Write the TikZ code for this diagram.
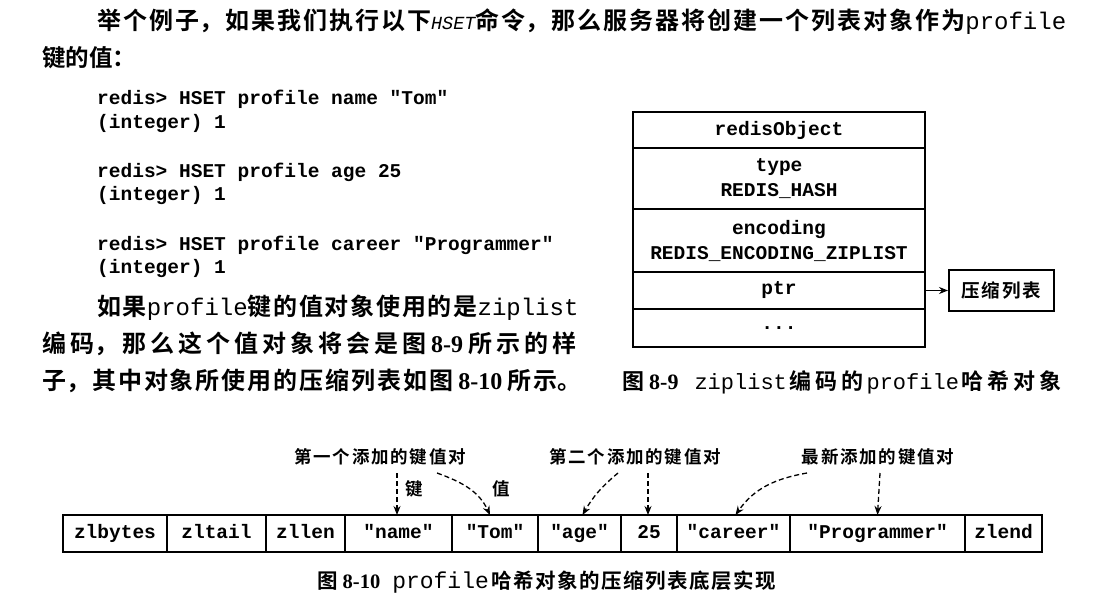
\documentclass[tikz,border=0pt]{standalone}
\usepackage{fontspec}
\usetikzlibrary{arrows.meta,positioning}

\newfontfamily\cjk{Noto Sans CJK SC}[UprightFont=* Bold]
\newfontfamily\cjklab{Noto Sans CJK SC}[UprightFont=* Bold,LetterSpace=10]
\newfontfamily\code{Liberation Mono}[UprightFont=* Bold]
\newfontfamily\txtmono{Liberation Mono}
\newfontfamily\cmdit{Liberation Mono}[UprightFont=* Italic]
\newfontfamily\dig{Liberation Serif}[UprightFont=* Bold]
\XeTeXlinebreaklocale "zh"
\XeTeXlinebreakskip=0pt plus 1fil
\newcommand\tm[2][24]{{\txtmono\fontsize{#1}{28}\selectfont #2}}
\newcommand\cmd[1]{{\cmdit\fontsize{18.5}{28}\selectfont #1}}

\begin{document}
\begin{tikzpicture}[x=1pt,y=-1pt,>={Stealth[length=9pt,width=7pt]},
    para/.style={anchor=west,inner sep=0pt,text width=#1,align=justify,font=\cjk\fontsize{24}{28}\selectfont},
    codeline/.style={anchor=west,inner sep=0pt,font=\code\fontsize{19.5}{24}\selectfont},
    row/.style={draw,line width=1.8pt,outer sep=0pt,inner sep=0pt,minimum width=292pt,align=center,font=\code\fontsize{19.5}{25}\selectfont},
    cell/.style={draw,line width=1.8pt,outer sep=0pt,inner sep=0pt,minimum height=37pt,
                 text height=13pt,text depth=4pt,font=\code\fontsize{19.5}{24}\selectfont},
    hint/.style={inner sep=0pt,font=\cjklab\fontsize{17.5}{20}\selectfont},
    ptr arrow/.style={->,line width=1.4pt},
    hint arrow/.style={->,dash pattern=on 5pt off 3pt,line width=1.3pt}]
    \path[use as bounding box,fill=white] (0,0) rectangle (1105,612);

    % text above and beside the figures
    \node[para=971pt] (l1) at (97,22) {\parfillskip=0pt\noindent 举个例子，如果我们执行以下\cmd{HSET}命令，那么服务器将创建一个列表对象作为\tm{profile}};
    \node[anchor=west,inner sep=0pt,font=\cjk\fontsize{23.5}{28}\selectfont] (l2) at (42,58) {键的值：};
    \node[codeline] (c1) at (97,99) {redis> HSET profile name "Tom"};
    \node[codeline] (c2) at (97,124) {(integer) 1};
    \node[codeline] (c3) at (97,172) {redis> HSET profile age 25};
    \node[codeline] (c4) at (97,196) {(integer) 1};
    \node[codeline] (c5) at (97,245) {redis> HSET profile career "Programmer"};
    \node[codeline] (c6) at (97,269) {(integer) 1};
    \node[para=483pt] (p1) at (97,308) {\parfillskip=0pt\noindent 如果\tm{profile}键的值对象使用的是\tm{ziplist}};
    \node[para=538pt] (p2) at (42,344) {\parfillskip=0pt\noindent 编码，那么这个值对象将会是图\hspace{5pt}{\dig 8-9}\hspace{5pt}所示的样};
    \node[para=541pt] (p3) at (42,381) {\parfillskip=0pt\noindent 子，其中对象所使用的压缩列表如图\hspace{5pt}{\dig 8-10}\hspace{5pt}所示。};

    % figure 8-9
    \node[row,minimum height=36pt,anchor=north west] (obj) at (633,112) {redisObject};
    \node[row,minimum height=61pt,below=0pt of obj] (type) {type\\REDIS\_HASH};
    \node[row,minimum height=63pt,below=0pt of type] (enc) {encoding\\REDIS\_ENCODING\_ZIPLIST};
    \node[row,minimum height=37pt,below=0pt of enc] (ptr) {ptr};
    \node[row,minimum height=38pt,below=0pt of ptr] (more) {...};
    \node[draw,line width=1.8pt,minimum width=105pt,minimum height=41pt,inner sep=0pt,
          font=\cjklab\fontsize{18.5}{20}\selectfont,right=23pt of ptr] (zip) {压缩列表};
    \draw[ptr arrow] (ptr) -- (zip);
    \node[para=443pt,font=\cjk\fontsize{22}{26}\selectfont] (cap1) at (622,382)
        {\parfillskip=0pt\noindent 图\hspace{5pt}{\dig 8-9}\hspace{16pt}\tm[22]{ziplist}\hspace{3pt}编码的\hspace{3pt}\tm[22]{profile}\hspace{3pt}哈希对象};

    % figure 8-10
    \node[cell,minimum width=104pt,anchor=north west] (zlbytes) at (63,515) {zlbytes};
    \node[cell,minimum width=99pt,right=0pt of zlbytes] (zltail) {zltail};
    \node[cell,minimum width=79pt,right=0pt of zltail] (zllen) {zllen};
    \node[cell,minimum width=107pt,right=0pt of zllen] (name) {"name"};
    \node[cell,minimum width=86pt,right=0pt of name] (tom) {"Tom"};
    \node[cell,minimum width=83pt,right=0pt of tom] (age) {"age"};
    \node[cell,minimum width=56pt,right=0pt of age] (num) {25};
    \node[cell,minimum width=113pt,right=0pt of num] (career) {"career"};
    \node[cell,minimum width=175pt,right=0pt of career] (prog) {"Programmer"};
    \node[cell,minimum width=77pt,right=0pt of prog] (zlend) {zlend};

    \node[hint] (pair1) at (380,457) {第一个添加的键值对};
    \node[hint] (pair2) at (635,457) {第二个添加的键值对};
    \node[hint] (pair3) at (878,457) {最新添加的键值对};
    \node[hint] (key1) at (414,489) {键};
    \node[hint] (val1) at (501,489) {值};
    \coordinate (k1) at (397,473);
    \coordinate (v1) at (437,473);
    \coordinate (k2) at (618,473);
    \coordinate (v2) at (648,473);
    \coordinate (k3) at (807,473);
    \coordinate (v3) at (880,473);
    \path[hint arrow]
    (k1) edge (k1 |- name.north)
    (v1) edge[out=-20,in=115] ([xshift=-5pt]tom.north)
    (k2) edge[out=-140,in=60] ([xshift=3pt]age.north)
    (v2) edge (v2 |- num.north)
    (k3) edge[out=190,in=55] ([xshift=2pt]career.north)
    (v3) edge (prog.north);

    \node[para=460pt,font=\cjk\fontsize{20.5}{26}\selectfont] (cap2) at (317,582)
        {\parfillskip=0pt\noindent 图\hspace{5pt}{\dig 8-10}\hspace{12pt}\tm[23]{profile}\hspace{3pt}哈希对象的压缩列表底层实现};
\end{tikzpicture}
\end{document}
